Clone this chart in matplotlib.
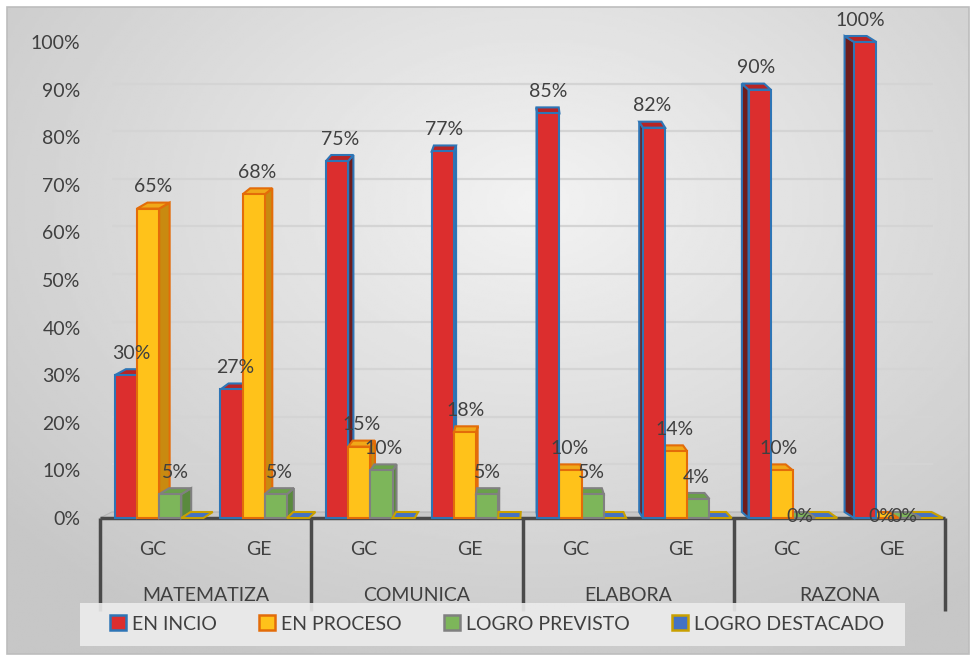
import numpy as np
import matplotlib.pyplot as plt
from matplotlib.patches import Polygon, Rectangle, Patch

plt.rcParams['font.family'] = ['Lato', 'DejaVu Sans']

categories = ['MATEMATIZA', 'COMUNICA', 'ELABORA', 'RAZONA']
groups = ['GC', 'GE']
series = ['EN INCIO', 'EN PROCESO', 'LOGRO PREVISTO', 'LOGRO DESTACADO']

# percentages per bar group: MAT GC, MAT GE, COM GC, COM GE, ELA GC, ELA GE, RAZ GC, RAZ GE
en_inicio = [30, 27, 75, 77, 85, 82, 90, 100]
en_proceso = [65, 68, 15, 18, 10, 14, 10, 0]
logro_previsto = [5, 5, 10, 5, 5, 4, 0, 0]
logro_destacado = [0, 0, 0, 0, 0, 0, 0, 0]
values = [en_inicio, en_proceso, logro_previsto, logro_destacado]

face = ['#dc2e2e', '#ffc21a', '#7db65a', '#4472c4']
side = ['#6e1c1c', '#c98a10', '#5a8a3e', '#2f4f8a']
top = ['#b82424', '#f0a818', '#6aa04a', '#3a5fa8']
edge = ['#2e75b6', '#e36c09', '#808080', '#c9a000']
txt = '#404040'

fig = plt.figure(figsize=(9.76, 6.6), dpi=100)

# gradient background panel
bg = fig.add_axes([0, 0, 1, 1], zorder=-10)
yy, xx = np.mgrid[0:1:300j, 0:1:400j]
r = np.sqrt(((xx - 0.55) / 0.85) ** 2 + ((yy - 0.3) / 0.9) ** 2)
shade = np.clip(0.95 - 0.2 * r, 0.78, 0.95)
bg.imshow(shade, cmap='gray', vmin=0, vmax=1, aspect='auto',
          extent=[7 / 976, 969 / 976, 1 - 654 / 660, 1 - 7 / 660], origin='upper')
bg.add_patch(Rectangle((7 / 976, 1 - 654 / 660), 962 / 976, 647 / 660,
                       fill=False, ec='#bdbdbd', lw=1.2))
bg.set_xlim(0, 1)
bg.set_ylim(0, 1)
bg.axis('off')

ax = fig.add_axes([100 / 976, 1 - 518 / 660, 845 / 976, 476 / 660])
ax.set_facecolor('none')
ax.set_xlim(0, 8)
ax.set_ylim(0, 1)
for s in ax.spines.values():
    s.set_visible(False)

bw = 0.21
off = 0.14
dy = 0.0126
k = 0.028  # perspective shift toward the centre


def shift(x):
    return (4 - x) * k


# floor
ax.add_patch(Polygon([(0, 0), (8, 0), (8 + shift(8), dy), (0 + shift(0), dy)],
                     closed=True, fc='#c8c8c8', ec='#b4b4b4', lw=0.8, zorder=1,
                     clip_on=False))

# back wall gridlines
ticks = np.arange(0, 1.01, 0.1)
for t in ticks[1:]:
    ax.plot([shift(0), 8 + shift(8)], [t + dy, t + dy], color='#d4d4d4', lw=1.6,
            zorder=0.5, solid_capstyle='butt')

ax.set_yticks(ticks)
ax.set_yticklabels([f'{int(round(t * 100))}%' for t in ticks], fontsize=14, color=txt)
ax.tick_params(axis='y', length=0, pad=14)
ax.set_xticks([])

for g in range(8):
    for i in range(4):
        v = values[i][g] / 100
        x0 = g + off + i * bw
        x1 = x0 + bw
        xc = (x0 + x1) / 2
        dx = shift(xc)
        z = 3 + (i if dx > 0 else -i) * 0.1 + g * 0.001
        if v == 0:
            ax.add_patch(Polygon([(x0, 0), (x1, 0), (x1 + dx, dy), (x0 + dx, dy)],
                                 closed=True, fc=face[i], ec=edge[i], lw=1.5,
                                 zorder=z, clip_on=False))
        else:
            sx = x1 if dx > 0 else x0
            ax.add_patch(Polygon([(sx, 0), (sx + dx, dy), (sx + dx, v + dy), (sx, v)],
                                 closed=True, fc=side[i], ec=edge[i], lw=1.5,
                                 zorder=z, clip_on=False))
            ax.add_patch(Polygon([(x0, v), (x1, v), (x1 + dx, v + dy), (x0 + dx, v + dy)],
                                 closed=True, fc=top[i], ec=edge[i], lw=1.5,
                                 zorder=z, clip_on=False))
            ax.bar(x0, v, width=bw, align='edge', color=face[i], edgecolor=edge[i],
                   linewidth=1.5, zorder=z, clip_on=False)
        if i < 3:
            ly = v + 0.046 if v > 0 else 0.004
            ax.text(xc + dx / 2, ly, f'{values[i][g]}%', ha='center', va='center',
                    fontsize=14, color=txt, zorder=10)

# category axis with grouped labels
ax.plot([0, 8], [0, 0], color='#4a4a4a', lw=2.5, zorder=2, clip_on=False,
        solid_capstyle='butt')
for b in [0, 2, 4, 6, 8]:
    ax.plot([b, b], [0, -0.195], color='#4a4a4a', lw=2.5, zorder=2, clip_on=False,
            solid_capstyle='butt')
for g in range(8):
    ax.text(g + 0.5, -0.066, groups[g % 2], ha='center', va='center',
            fontsize=14, color=txt)
for c, name in enumerate(categories):
    ax.text(2 * c + 1, -0.163, name, ha='center', va='center', fontsize=14, color=txt)

# legend panel
fig.patches.append(Rectangle((80 / 976, 1 - 646 / 660), 825 / 976, 43 / 660,
                             transform=fig.transFigure, fc='#ececec', ec='none',
                             alpha=0.9, zorder=5))
handles = [Patch(facecolor=face[i], edgecolor=edge[i], linewidth=1.8) for i in range(4)]
leg = fig.legend(handles, series, loc='center', bbox_to_anchor=(497 / 976, 1 - 624 / 660),
                 ncol=4, frameon=False, fontsize=14, handlelength=0.8,
                 handleheight=0.8, handletextpad=0.3, columnspacing=2.2)
for t in leg.get_texts():
    t.set_color(txt)
leg.set_zorder(6)

fig.savefig('out.png', dpi=100)
